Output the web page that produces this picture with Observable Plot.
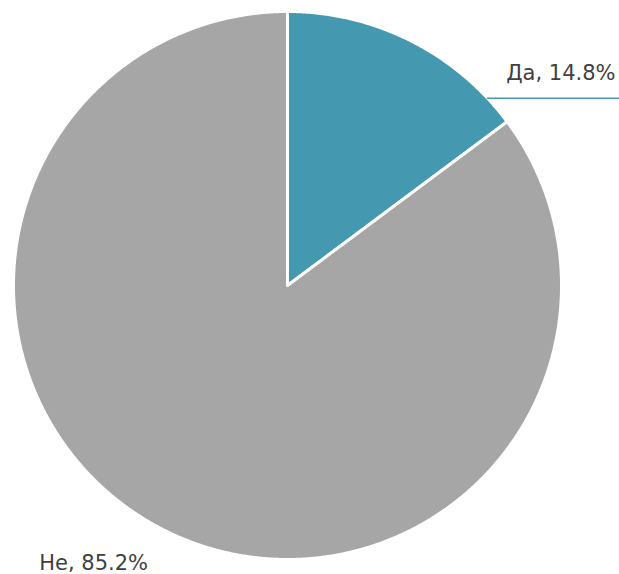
<!DOCTYPE html>
<html>
<head>
<meta charset="utf-8">
<script src="https://cdn.jsdelivr.net/npm/d3@7"></script>
<script src="https://cdn.jsdelivr.net/npm/@observablehq/plot@0.6"></script>
<style>
  html, body { margin: 0; padding: 0; background: #fff; }
  #chart svg { display: block; }
</style>
</head>
<body>
<div id="chart"></div>
<script>
const categories = ["Да", "Не"];
const values = [14.8, 85.2];
const colors = ["#4499b1", "#a6a6a6"];

const W = 619, H = 574;
const cx = 287, cy = 285, R = 274;

const pie = d3.pie().sort(null).value(d => d.value)(categories.map((c, i) => ({name: c, value: values[i], color: colors[i]})));

function pt(a, r) { return [cx + r * Math.sin(a), cy - r * Math.cos(a)]; }

const polys = pie.map(s => {
  const n = Math.max(4, Math.ceil((s.endAngle - s.startAngle) / 0.005));
  const pts = [{x: cx, y: cy, name: s.data.name}];
  for (let k = 0; k <= n; k++) {
    const a = s.startAngle + (s.endAngle - s.startAngle) * k / n;
    const [x, y] = pt(a, R);
    pts.push({x, y, name: s.data.name});
  }
  pts.push({x: cx, y: cy, name: s.data.name});
  return {slice: s, pts};
});

const fmt = v => v.toFixed(1) + "%";

const s0 = pie[0], s1 = pie[1];
const leaderAngle = s0.startAngle + (s0.endAngle - s0.startAngle) * 0.88;
const [lx0, ly0] = pt(leaderAngle, R);
const leader = [{x: lx0, y: ly0}, {x: W, y: ly0}];
const labelDa = {x: W - 4, y: ly0, text: `${s0.data.name}, ${fmt(s0.data.value)}`};
const notAngle = s1.startAngle + (s1.endAngle - s1.startAngle) * 0.527;
const [nx, ny] = pt(notAngle, R);
const labelNe = {x: nx, y: ny, text: `${s1.data.name}, ${fmt(s1.data.value)}`};

const chart = Plot.plot({
  width: W, height: H,
  margin: 0,
  x: {domain: [0, W], range: [0, W], axis: null},
  y: {domain: [0, H], range: [0, H], axis: null},
  style: {fontFamily: "'DejaVu Sans', sans-serif", background: "#fff"},
  marks: [
    ...polys.map(p => Plot.line(p.pts, {x: "x", y: "y", fill: p.slice.data.color, stroke: "#fff", strokeWidth: 3, strokeLinejoin: "round", curve: "linear"})),
    Plot.line(leader, {x: "x", y: "y", stroke: colors[0], strokeWidth: 1.5}),
    Plot.text([labelDa], {x: "x", y: "y", text: "text", textAnchor: "end", dy: -25, fontSize: 21, fill: "#404040"}),
    Plot.text([labelNe], {x: "x", y: "y", text: "text", textAnchor: "middle", dx: -37, dy: 53, fontSize: 21, fill: "#404040"})
  ]
});
document.getElementById("chart").appendChild(chart);
</script>
</body>
</html>
